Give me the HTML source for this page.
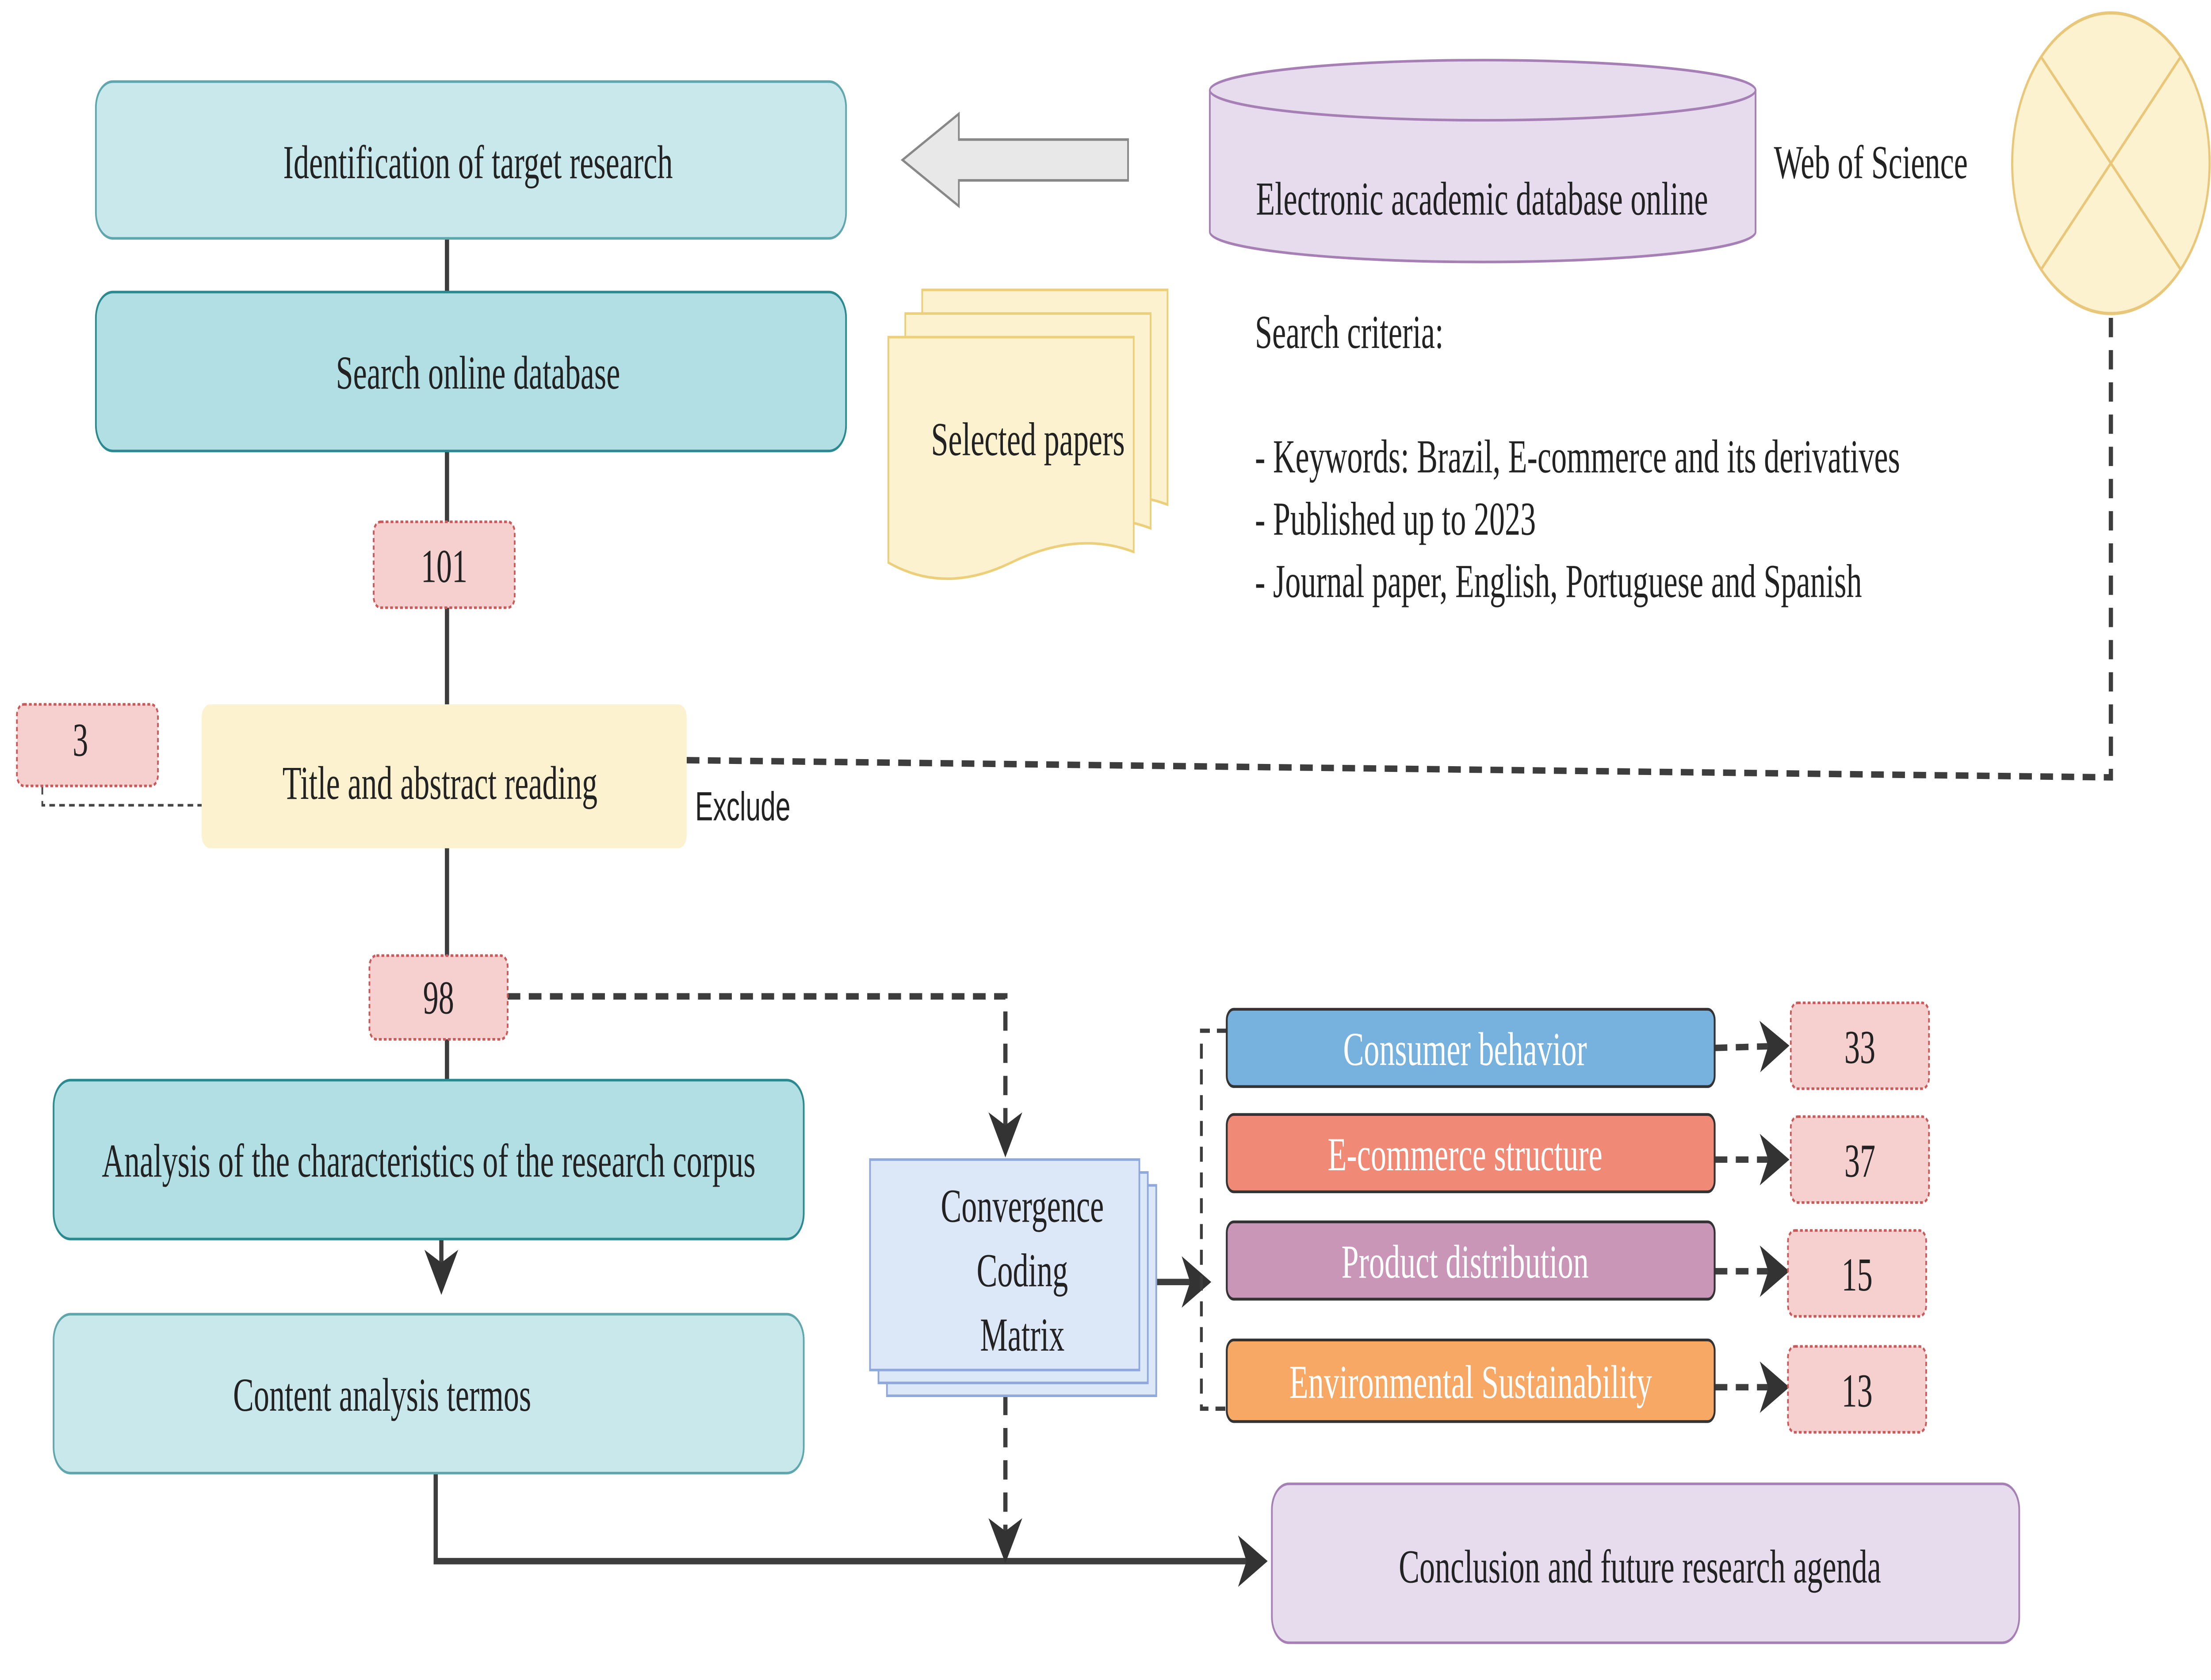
<!DOCTYPE html>
<html><head><meta charset="utf-8"><style>html,body{margin:0;padding:0;background:#fff;width:100%;height:100%;overflow:hidden}svg{display:block;position:fixed;left:0;top:0;width:100vw;height:100vh}</style></head>
<body>
<svg viewBox="0 0 1568 782.35" preserveAspectRatio="none" xmlns="http://www.w3.org/2000/svg" font-family="'Liberation Serif', serif" font-size="22" fill="#222">
<defs>
<marker id="ah" markerWidth="8" markerHeight="8" refX="6" refY="4" orient="auto" markerUnits="strokeWidth"><path d="M0,0 L7,4 L0,8 L2,4 z" fill="#333"/></marker>
</defs>
<rect width="1568" height="782.35" fill="#fff"/>
<g stroke="#3d3d3d" stroke-width="3" fill="none">
<line x1="317" y1="111" x2="317" y2="136"/>
<line x1="317" y1="210" x2="317" y2="330"/>
<line x1="317" y1="395" x2="317" y2="503"/>
<line x1="313" y1="577" x2="313" y2="600" marker-end="url(#ah)"/>
<polyline points="309,686 309,727 896,727" marker-end="url(#ah)"/>
<line x1="808" y1="597" x2="856" y2="597" marker-end="url(#ah)"/>
</g>
<g stroke="#3d3d3d" stroke-width="3" fill="none" stroke-dasharray="9,6">
<polyline points="487,354 1497,362 1497,140"/>
<polyline points="360,464 713,464 713,536" marker-end="url(#ah)"/>
<line x1="713" y1="650" x2="713" y2="725" marker-end="url(#ah)"/>
<line x1="1216" y1="488" x2="1266" y2="487" marker-end="url(#ah)"/>
<line x1="1216" y1="540" x2="1266" y2="540" marker-end="url(#ah)"/>
<line x1="1216" y1="592" x2="1266" y2="592" marker-end="url(#ah)"/>
<line x1="1216" y1="646" x2="1266" y2="646" marker-end="url(#ah)"/>
</g>
<polyline points="870,480 852,480 852,656 870,656" stroke="#3d3d3d" stroke-width="2" fill="none" stroke-dasharray="7,5"/>
<polyline points="30,352 30,375 147,375" stroke="#444" stroke-width="1.2" fill="none" stroke-dasharray="4,3"/>
<rect x="68" y="38" width="532" height="73" rx="12" fill="#c9e8ec" stroke="#5fa6ad" stroke-width="1.2"/>
<text x="339" y="83" text-anchor="middle">Identification of target research</text>
<rect x="68" y="136" width="532" height="74" rx="12" fill="#b1dfe3" stroke="#2a8a8f" stroke-width="1.2"/>
<text x="339" y="181" text-anchor="middle">Search online database</text>
<rect x="265" y="243" width="100" height="40" rx="5" fill="#f6cfcf" stroke="#c85a5a" stroke-width="1.2" stroke-dasharray="2,1.5"/>
<text x="315" y="271" text-anchor="middle">101</text>
<rect x="12" y="328" width="100" height="38" rx="5" fill="#f6cfcf" stroke="#c85a5a" stroke-width="1.2" stroke-dasharray="2,1.5"/>
<text x="57" y="352" text-anchor="middle">3</text>
<rect x="143" y="328" width="344" height="67" rx="6" fill="#fdf2cf"/>
<text x="312" y="372" text-anchor="middle">Title and abstract reading</text>
<text x="493" y="382" font-family="'Liberation Sans', sans-serif" font-size="19">Exclude</text>
<rect x="262" y="445" width="98" height="39" rx="5" fill="#f6cfcf" stroke="#c85a5a" stroke-width="1.2" stroke-dasharray="2,1.5"/>
<text x="311" y="472" text-anchor="middle">98</text>
<rect x="38" y="503" width="532" height="74" rx="12" fill="#b1dfe3" stroke="#2a8a8f" stroke-width="1.2"/>
<text x="304" y="548" text-anchor="middle">Analysis of the characteristics of the research corpus</text>
<rect x="38" y="612" width="532" height="74" rx="12" fill="#c9e8ec" stroke="#5fa6ad" stroke-width="1.2"/>
<text x="271" y="657" text-anchor="middle">Content analysis termos</text>
<path d="M800,65 L680,65 L680,53 L640,74.5 L680,96 L680,84 L800,84 z" fill="#e8e8e8" stroke="#888" stroke-width="1.2"/>
<path d="M858,42 L858,108 A193.5,14 0 0 0 1245,108 L1245,42" fill="#e6dcee" stroke="#a67fb5" stroke-width="1.2"/>
<ellipse cx="1051.5" cy="42" rx="193.5" ry="14" fill="#e6dcee" stroke="#a67fb5" stroke-width="1.2"/>
<text x="1051" y="100" text-anchor="middle">Electronic academic database online</text>
<text x="1258" y="83">Web of Science</text>
<circle cx="1497" cy="76" r="70" fill="#fdf2cf" stroke="#e8c77a" stroke-width="1.5"/>
<line x1="1447.5" y1="26.5" x2="1546.5" y2="125.5" stroke="#e8c77a" stroke-width="1.5"/>
<line x1="1546.5" y1="26.5" x2="1447.5" y2="125.5" stroke="#e8c77a" stroke-width="1.5"/>
<g fill="#fdf2cf" stroke="#eccf7a" stroke-width="1.2">
<path d="M654,135 h174 v100 q-40,-10 -87,5 t-87,0 z"/>
<path d="M642,146 h174 v100 q-40,-10 -87,5 t-87,0 z"/>
<path d="M630,157 h174 v100 q-40,-10 -87,5 t-87,0 z"/>
</g>
<text x="729" y="212" text-anchor="middle">Selected papers</text>
<text x="890" y="162">Search criteria:</text>
<text x="890" y="220">- Keywords: Brazil, E-commerce and its derivatives</text>
<text x="890" y="249">- Published up to 2023</text>
<text x="890" y="278">- Journal paper, English, Portuguese and Spanish</text>
<g fill="#dce8f7" stroke="#8fa9dd" stroke-width="1.2">
<rect x="629" y="552" width="191" height="98"/>
<rect x="623" y="546" width="191" height="98"/>
<rect x="617" y="540" width="191" height="98"/>
</g>
<text x="725" y="569" text-anchor="middle">Convergence</text>
<text x="725" y="599" text-anchor="middle">Coding</text>
<text x="725" y="629" text-anchor="middle">Matrix</text>
<g stroke="#333" stroke-width="1.3">
<rect x="870" y="470" width="346" height="36" rx="5" fill="#77b2df"/>
<rect x="870" y="519" width="346" height="36" rx="5" fill="#f08a77"/>
<rect x="870" y="569" width="346" height="36" rx="5" fill="#c996b8"/>
<rect x="870" y="624" width="346" height="38" rx="5" fill="#f7a865"/>
</g>
<g fill="#fff" text-anchor="middle">
<text x="1039" y="496">Consumer behavior</text>
<text x="1039" y="545">E-commerce structure</text>
<text x="1039" y="595">Product distribution</text>
<text x="1043" y="651">Environmental Sustainability</text>
</g>
<g fill="#f6cfcf" stroke="#c85a5a" stroke-width="1.2" stroke-dasharray="2,1.5">
<rect x="1270" y="467" width="98" height="40" rx="5"/>
<rect x="1270" y="520" width="98" height="40" rx="5"/>
<rect x="1268" y="573" width="98" height="40" rx="5"/>
<rect x="1268" y="627" width="98" height="40" rx="5"/>
</g>
<g text-anchor="middle">
<text x="1319" y="495">33</text>
<text x="1319" y="548">37</text>
<text x="1317" y="601">15</text>
<text x="1317" y="655">13</text>
</g>
<rect x="902" y="691" width="530" height="74" rx="12" fill="#e6dcee" stroke="#a67fb5" stroke-width="1.2"/>
<text x="1163" y="737" text-anchor="middle">Conclusion and future research agenda</text>
</svg>
</body></html>
